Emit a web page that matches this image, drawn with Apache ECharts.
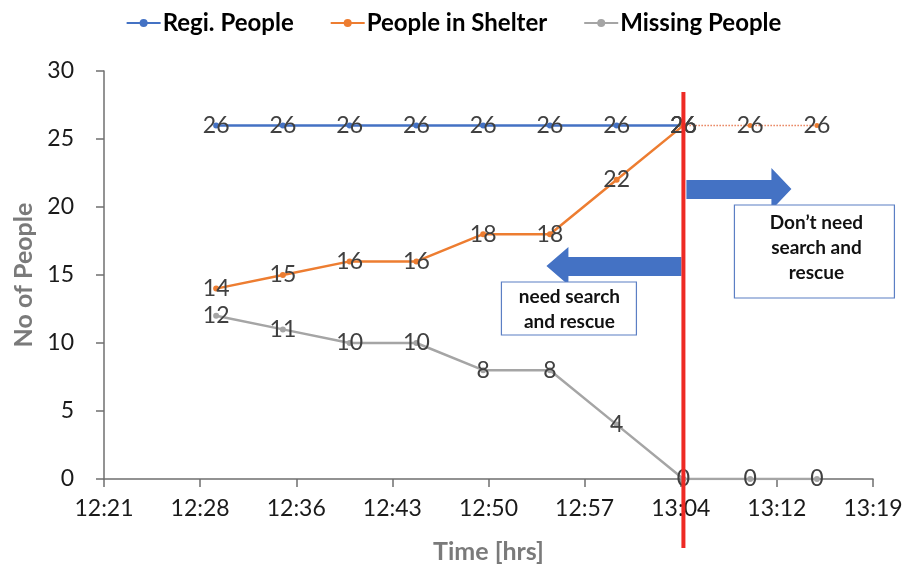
<!DOCTYPE html>
<html>
<head>
<meta charset="utf-8">
<script src="https://cdn.jsdelivr.net/npm/echarts@6/dist/echarts.min.js"></script>
<style>
html,body{margin:0;padding:0;background:#fff;}
#chart{width:907px;height:571px;}
</style>
</head>
<body>
<div id="chart"></div>
<script>
// ---- data ----
var times = ['12:30','12:35','12:40','12:45','12:50','12:55','13:00','13:05','13:10','13:15'];
var regiPeople = [26,26,26,26,26,26,26,26,26,26];
var peopleInShelter = [14,15,16,16,18,18,22,26,26,26];
var missingPeople = [12,11,10,10,8,8,4,0,0,0];
var seriesNames = ['Regi. People','People in Shelter','Missing People'];
var splitTime = '13:05';   // time of the red divider line
var leftNote = ['need search','and rescue'];
var rightNote = ['Don\u2019t need','search and','rescue'];

function toSec(t){var p=t.split(':');return (+p[0])*3600+(+p[1])*60;}
function fmt(v){var h=Math.floor(v/3600);var m=Math.floor((v%3600)/60);return h+':'+(m<10?'0'+m:m);}

var splitIdx = times.indexOf(splitTime);
function pairs(vals, from, to){
  return times.map(function(t,i){return [toSec(t), (i>=from && i<=to)? vals[i] : null];});
}

var FONT = 'Lato, "Open Sans", sans-serif';
var labelStyle = {show:true, position:'inside', color:'#404040', fontSize:23, fontFamily:FONT};

var chart = echarts.init(document.getElementById('chart'));
var option = {
  animation:false,
  legend:{
    top:6, left:'center',
    itemWidth:34, itemHeight:10, itemGap:36,
    textStyle:{fontFamily:FONT, fontWeight:'bold', fontSize:24, color:'#000', padding:[0,0,0,-3]},
    data:seriesNames
  },
  grid:{left:104, right:34, top:71, bottom:92},
  xAxis:{
    type:'value',
    min:44496, max:47952, interval:432,
    name:'Time [hrs]', nameLocation:'middle', nameGap:60,
    nameTextStyle:{fontFamily:FONT, fontWeight:'bold', fontSize:25, color:'#7a7a7a'},
    axisLine:{show:true, lineStyle:{color:'#6f6f6f', width:1.5}},
    axisTick:{show:true, length:8, lineStyle:{color:'#6f6f6f', width:1.5}},
    axisLabel:{formatter:fmt, margin:18, fontFamily:FONT, fontSize:23, color:'#1a1a1a', showMinLabel:true, showMaxLabel:true},
    splitLine:{show:false}
  },
  yAxis:{
    type:'value', min:0, max:30, interval:5,
    name:'No of People', nameLocation:'middle', nameGap:62, nameRotate:90,
    nameTextStyle:{fontFamily:FONT, fontWeight:'bold', fontSize:25, color:'#7a7a7a'},
    axisLine:{show:true, lineStyle:{color:'#6f6f6f', width:1.5}},
    axisTick:{show:true, length:8, lineStyle:{color:'#6f6f6f', width:1.5}},
    axisLabel:{margin:30, fontFamily:FONT, fontSize:23, color:'#1a1a1a'},
    splitLine:{show:false}
  },
  series:[
    {name:seriesNames[0], type:'line', data:pairs(regiPeople,0,splitIdx), connectNulls:false,
     color:'#4472c4', lineStyle:{width:2.5}, symbol:'circle', symbolSize:6, label:labelStyle, z:2},
    {name:seriesNames[1], type:'line', data:pairs(peopleInShelter,0,splitIdx),
     color:'#ed7d31', lineStyle:{width:2.5}, symbol:'circle', symbolSize:6, label:labelStyle, z:3},
    {name:seriesNames[1]+' (projected)', type:'line', data:pairs(peopleInShelter,splitIdx,times.length-1),
     color:'#ed7d31', lineStyle:{width:1.5, type:'dotted', color:'#e8805a'}, symbol:'circle', symbolSize:5,
     itemStyle:{color:'#ed7d31'}, label:labelStyle, z:3},
    {name:seriesNames[2], type:'line', data:pairs(missingPeople,0,times.length-1),
     color:'#a5a5a5', lineStyle:{width:2.5}, symbol:'circle', symbolSize:6, label:labelStyle, z:2}
  ]
};
chart.setOption(option);

// annotations anchored to the divider time
var px = chart.convertToPixel({xAxisIndex:0}, toSec(splitTime));
var ARROW = '#4472c4';
var noteText = {fontFamily:FONT, fontWeight:'bold', fontSize:19, fill:'#111', lineHeight:25, align:'center', verticalAlign:'middle'};
chart.setOption({
  graphic:[
    // right arrow
    {type:'polygon', z:10, shape:{points:[[px+3,180],[px+88,180],[px+88,168],[px+108,189],[px+88,210],[px+88,199],[px+3,199]]},
     style:{fill:ARROW}},
    // left arrow
    {type:'polygon', z:10, shape:{points:[[px-2,257],[px-115,257],[px-115,247],[px-137,266],[px-115,285],[px-115,276],[px-2,276]]},
     style:{fill:ARROW}},
    // left note box
    {type:'rect', z:10, shape:{x:px-182, y:282, width:135, height:53}, style:{fill:'#fff', stroke:'#5b7fc4', lineWidth:1.2}},
    {type:'text', z:11, x:px-114, y:309, style:Object.assign({text:leftNote.join('\n')}, noteText)},
    // right note box
    {type:'rect', z:10, shape:{x:px+51, y:205, width:160, height:93}, style:{fill:'#fff', stroke:'#5b7fc4', lineWidth:1.2}},
    {type:'text', z:11, x:px+133, y:248, style:Object.assign({text:rightNote.join('\n')}, noteText)},
    // red divider line
    {type:'line', z:12, shape:{x1:px, y1:92, x2:px, y2:548}, style:{stroke:'#ee2a24', lineWidth:4}}
  ]
});
</script>
</body>
</html>
